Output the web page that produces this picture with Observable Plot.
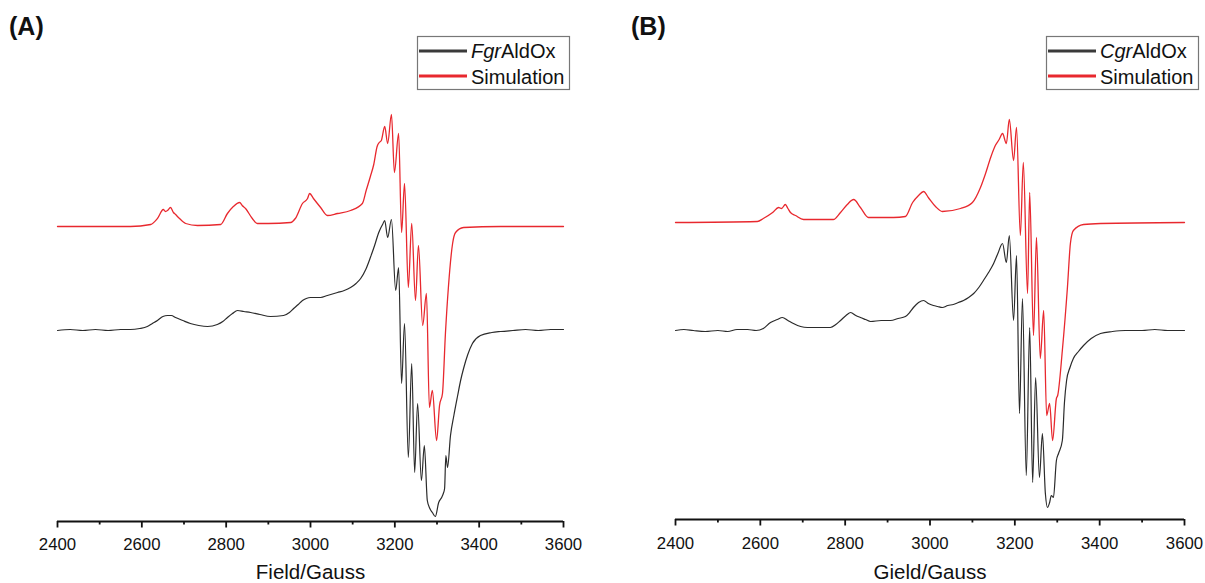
<!DOCTYPE html>
<html>
<head>
<meta charset="utf-8">
<script src="https://cdn.jsdelivr.net/npm/d3@7"></script>
<script src="https://cdn.jsdelivr.net/npm/@observablehq/plot@0.6"></script>
<style>
html, body { margin: 0; padding: 0; background: #fff; }
#wrap { position: relative; width: 1205px; height: 583px; overflow: hidden; font-family: "Liberation Sans", Arial, sans-serif; }
#wrap > svg { position: absolute; top: 0; }
</style>
</head>
<body>
<div id="wrap"></div>
<script>
// ---------- tick labels ----------
const fieldTicks = [2400, 2600, 2800, 3000, 3200, 3400, 3600];
const minorTicks = [2500, 2700, 2900, 3100, 3300, 3500];
const axisTitles = ["Field/Gauss", "Gield/Gauss"];

// ---------- (A) FgrAldOx experimental spectrum ----------
const fgrField = [2400,2430,2460,2490,2520,2550,2573,2595,2613,2625,2637,2650,2661,2670,2680,2697,2715,2735,2756,2779,2792,2803,2815,2827,2842,2858,2880,2905,2936,2950,2960,2971,2981,2990,3000,3012,3024,3040,3064,3080,3095,3108,3119,3131,3142,3152,3161,3166,3171,3176,3183,3192,3202,3209,3216,3223,3232,3240,3247,3254,3263,3270,3277,3283,3289,3296,3304,3311,3315,3318,3321,3325,3332,3340,3349,3356,3363,3373,3384,3403,3430,3451,3480,3510,3540,3570,3600];
const fgrSignal = [0,1,0,1,0,1,1,2,4,7,10,14,15,15,13,10,7,5,4,6,9,13,17,20,19,18,16,14,15,18,22,26,30,32,33,33,33,35,38,40,43,47,52,61,73,85,97,102,106,110,93,111,40,63,-53,7,-127,-33,-142,-73,-150,-115,-170,-178,-182,-186,-172,-167,-163,-158,-125,-137,-105,-85,-65,-50,-38,-24,-13,-5,-2,-1,0,1,0,1,1];

// ---------- (A) simulation ----------
const fgrSimField = [2400,2573,2621,2637,2651,2656,2661,2668,2675,2680,2687,2704,2732,2787,2803,2817,2832,2838,2846,2862,2874,2900,2953,2964,2981,2993,2998,3007,3024,3040,3064,3095,3123,3132,3142,3150,3158,3163,3168,3176,3183,3192,3199,3209,3216,3223,3232,3240,3249,3256,3266,3275,3282,3289,3299,3306,3313,3320,3327,3337,3344,3363,3451,3600];
const fgrSimSignal = [0,0,2,8,17,15,16,19,14,12,9,3,1,2,13,20,24,21,18,8,3,3,4,8,23,28,33,28,19,11,13,16,23,36,50,62,80,84,86,100,83,112,54,93,-6,43,-61,3,-74,-19,-99,-67,-181,-164,-214,-179,-167,-107,-61,-17,-6,-1,0,0];

// ---------- (B) CgrAldOx experimental spectrum ----------
const cgrField = [2400,2420,2442,2470,2500,2523,2545,2570,2590,2607,2624,2640,2652,2665,2678,2695,2711,2740,2765,2778,2789,2802,2813,2825,2836,2848,2860,2885,2907,2925,2942,2952,2961,2973,2985,2996,3008,3018,3029,3042,3055,3067,3079,3091,3103,3115,3126,3138,3150,3160,3171,3180,3187,3197,3204,3211,3218,3227,3235,3242,3249,3258,3265,3272,3277,3282,3286,3291,3298,3303,3312,3317,3322,3330,3338,3350,3362,3380,3402,3430,3460,3500,3530,3560,3600];
const cgrSignal = [0,1,0,-1,0,-1,1,1,0,2,8,11,13,10,7,4,3,3,3,6,10,15,18,15,13,11,9,10,10,12,14,18,23,28,30,27,25,24,23,25,26,28,30,33,37,43,50,58,67,77,87,68,95,10,75,-83,32,-145,3,-152,-47,-147,-103,-163,-177,-172,-165,-167,-130,-123,-110,-72,-50,-37,-28,-21,-15,-8,-3,-1,0,0,1,0,0];

// ---------- (B) simulation ----------
const cgrSimField = [2400,2593,2607,2629,2643,2650,2659,2665,2671,2683,2702,2772,2789,2805,2820,2836,2855,2914,2942,2959,2973,2985,2996,3013,3029,3072,3100,3119,3131,3143,3154,3163,3171,3180,3187,3197,3204,3213,3220,3230,3235,3244,3251,3260,3268,3275,3282,3289,3298,3301,3312,3324,3331,3338,3362,3402,3600];
const cgrSimSignal = [0,1,4,10,15,14,18,14,10,7,3,3,10,18,23,15,5,5,6,20,27,31,25,16,11,14,20,35,49,65,77,83,89,79,103,62,95,-13,60,-71,30,-113,-15,-136,-88,-193,-181,-218,-176,-173,-128,-65,-21,-8,-2,-1,0];

const toRows = (f, s) => f.map((x, i) => ({field: x, intensity: s[i]}));

const FONT = '"Liberation Sans", Arial, sans-serif';
const RED = "#e8282e";
const BLACK = "#2b2b2b";

function panel({exp, sim, simOffset, yDomain, width, marginLeft, marginRight, marginBottom, tickPadding, xLabel}) {
  const svg = Plot.plot({
    width, height: 583,
    marginLeft, marginRight, marginTop: 100, marginBottom,
    style: {fontFamily: FONT, color: "#111", background: "transparent", overflow: "visible"},
    x: {domain: [2400, 3600]},
    y: {domain: yDomain, axis: null},
    marks: [
      Plot.ruleY([yDomain[0]], {stroke: "#111", strokeWidth: 1.8}),
      Plot.axisX({ticks: minorTicks, tickSize: 3.5, tickFormat: () => "", strokeWidth: 1.8, label: null}),
      Plot.axisX({ticks: fieldTicks, tickSize: 6.5, tickPadding, fontSize: 16.8, strokeWidth: 1.8,
                  tickFormat: d => String(d), label: null}),
      Plot.line(exp, {x: "field", y: "intensity", stroke: BLACK, strokeWidth: 1.2, curve: "monotone-x"}),
      Plot.line(sim, {x: "field", y: d => d.intensity + simOffset, stroke: RED, strokeWidth: 1.3, curve: "monotone-x"}),
      Plot.text([xLabel], {x: [3000], frameAnchor: "bottom", dy: 57 + (marginBottom - 62), lineAnchor: "bottom",
                           fontSize: 20.5, fill: "#111", text: d => d})
    ]
  });
  return svg;
}

const wrap = document.getElementById("wrap");

const svgA = panel({
  exp: toRows(fgrField, fgrSignal), sim: toRows(fgrSimField, fgrSimSignal), simOffset: 104,
  yDomain: [-191, 230], width: 600, marginLeft: 57, marginRight: 37, marginBottom: 62,
  tickPadding: 10.1, xLabel: axisTitles[0]
});
svgA.style.left = "0px";
wrap.appendChild(svgA);

const svgB = panel({
  exp: toRows(cgrField, cgrSignal), sim: toRows(cgrSimField, cgrSimSignal), simOffset: 108,
  yDomain: [-189, 230], width: 605, marginLeft: 75, marginRight: 21, marginBottom: 64,
  tickPadding: 11.4, xLabel: axisTitles[1]
});
svgB.style.left = "600px";
wrap.appendChild(svgB);

// ---------- overlay: panel letters and legends ----------
const ov = d3.select(wrap).append("svg")
  .attr("width", 1205).attr("height", 583)
  .style("left", "0px").style("pointer-events", "none")
  .style("font-family", FONT);

[["(A)", 9], ["(B)", 631]].forEach(([t, x]) => {
  ov.append("text").attr("x", x).attr("y", 35).attr("font-size", 25)
    .attr("font-weight", "bold").attr("fill", "#111").text(t);
});

function legend(x0, italicPart, restPart) {
  const g = ov.append("g");
  g.append("rect").attr("x", x0 + 0.5).attr("y", 36.5).attr("width", 152).attr("height", 53)
    .attr("fill", "#fff").attr("stroke", "#777").attr("stroke-width", 1.2);
  g.append("line").attr("x1", x0 + 2).attr("x2", x0 + 50).attr("y1", 51).attr("y2", 51)
    .attr("stroke", "#3a3a3a").attr("stroke-width", 3);
  g.append("line").attr("x1", x0 + 2).attr("x2", x0 + 50).attr("y1", 76).attr("y2", 76)
    .attr("stroke", RED).attr("stroke-width", 3);
  const t1 = g.append("text").attr("x", x0 + 54).attr("y", 58).attr("font-size", 20).attr("fill", "#111");
  t1.append("tspan").attr("font-style", "italic").text(italicPart);
  t1.append("tspan").text(restPart);
  g.append("text").attr("x", x0 + 54).attr("y", 83.5).attr("font-size", 20).attr("fill", "#111").text("Simulation");
}
legend(417, "Fgr", "AldOx");
legend(1046, "Cgr", "AldOx");
</script>
</body>
</html>
